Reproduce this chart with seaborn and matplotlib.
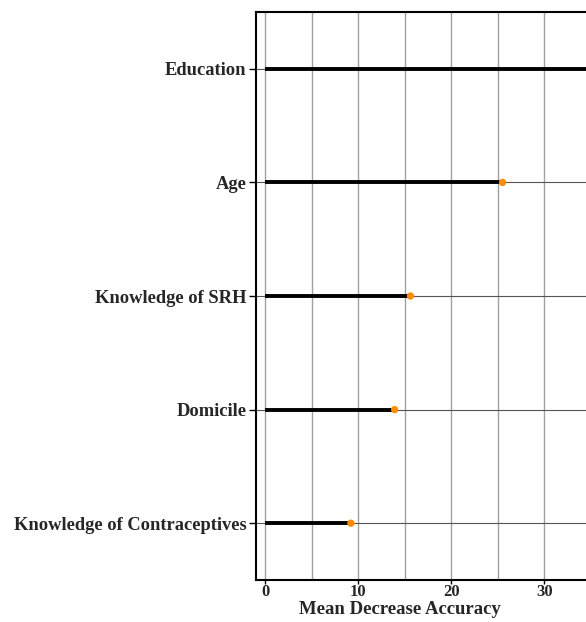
import matplotlib
matplotlib.use("Agg")
import matplotlib.pyplot as plt
import seaborn as sns
import pandas as pd

categories = ["Education", "Age", "Knowledge of SRH", "Domicile", "Knowledge of Contraceptives"]
values = [40.0, 25.5, 15.6, 13.9, 9.2]
xtick_values = [0, 10, 20, 30]

df = pd.DataFrame({"feature": categories, "value": values})

sns.set_style("white")
plt.rcParams["font.family"] = ["Liberation Serif", "DejaVu Serif"]
plt.rcParams["font.weight"] = "bold"

fig = plt.figure(figsize=(5.86, 6.22), dpi=100)
W, H = 586, 622
ax_left, ax_right = 256, 684
ax_top, ax_bottom = 12, 580
ax = fig.add_axes([ax_left / W, 1 - ax_bottom / H, (ax_right - ax_left) / W, (ax_bottom - ax_top) / H])

xmin, xmax = -1.0, 45.0
ax.set_xlim(xmin, xmax)
ypos = list(range(len(categories)))

# vertical grid every 5
for gx in range(0, 45, 5):
    ax.axvline(gx, color="#a0a0a0", lw=1.0, zorder=0)

# thin full-width guide lines
ax.hlines(ypos, xmin, xmax, color="#555555", lw=0.8, zorder=1)
# thick segments from 0
ax.hlines(ypos, 0, df["value"], color="black", lw=2.8, zorder=2)
sns.scatterplot(data=df, x="value", y=ypos, color="#ff8c00", s=28, edgecolor="none", zorder=3, ax=ax)

ax.set_ylim(4.5, -0.5)
ax.set_yticks(ypos)
ax.set_yticklabels(categories, fontsize=13.3, fontweight="bold")
ax.set_xticks(xtick_values)
ax.set_xticklabels([str(v) for v in xtick_values], fontsize=12, fontweight="bold")
ax.tick_params(axis="y", direction="out", length=5, width=1, color="black", left=True, pad=2)
ax.tick_params(axis="x", direction="out", length=3, width=1, color="black", bottom=True, pad=0)
ax.set_xlabel("Mean Decrease Accuracy", fontsize=13.5, fontweight="bold")
ax.xaxis.set_label_coords((400 - ax_left) / (ax_right - ax_left), -0.037)
ax.set_ylabel("")
for s in ax.spines.values():
    s.set_color("black")
    s.set_linewidth(1.5)

fig.savefig("out.png", dpi=100)
